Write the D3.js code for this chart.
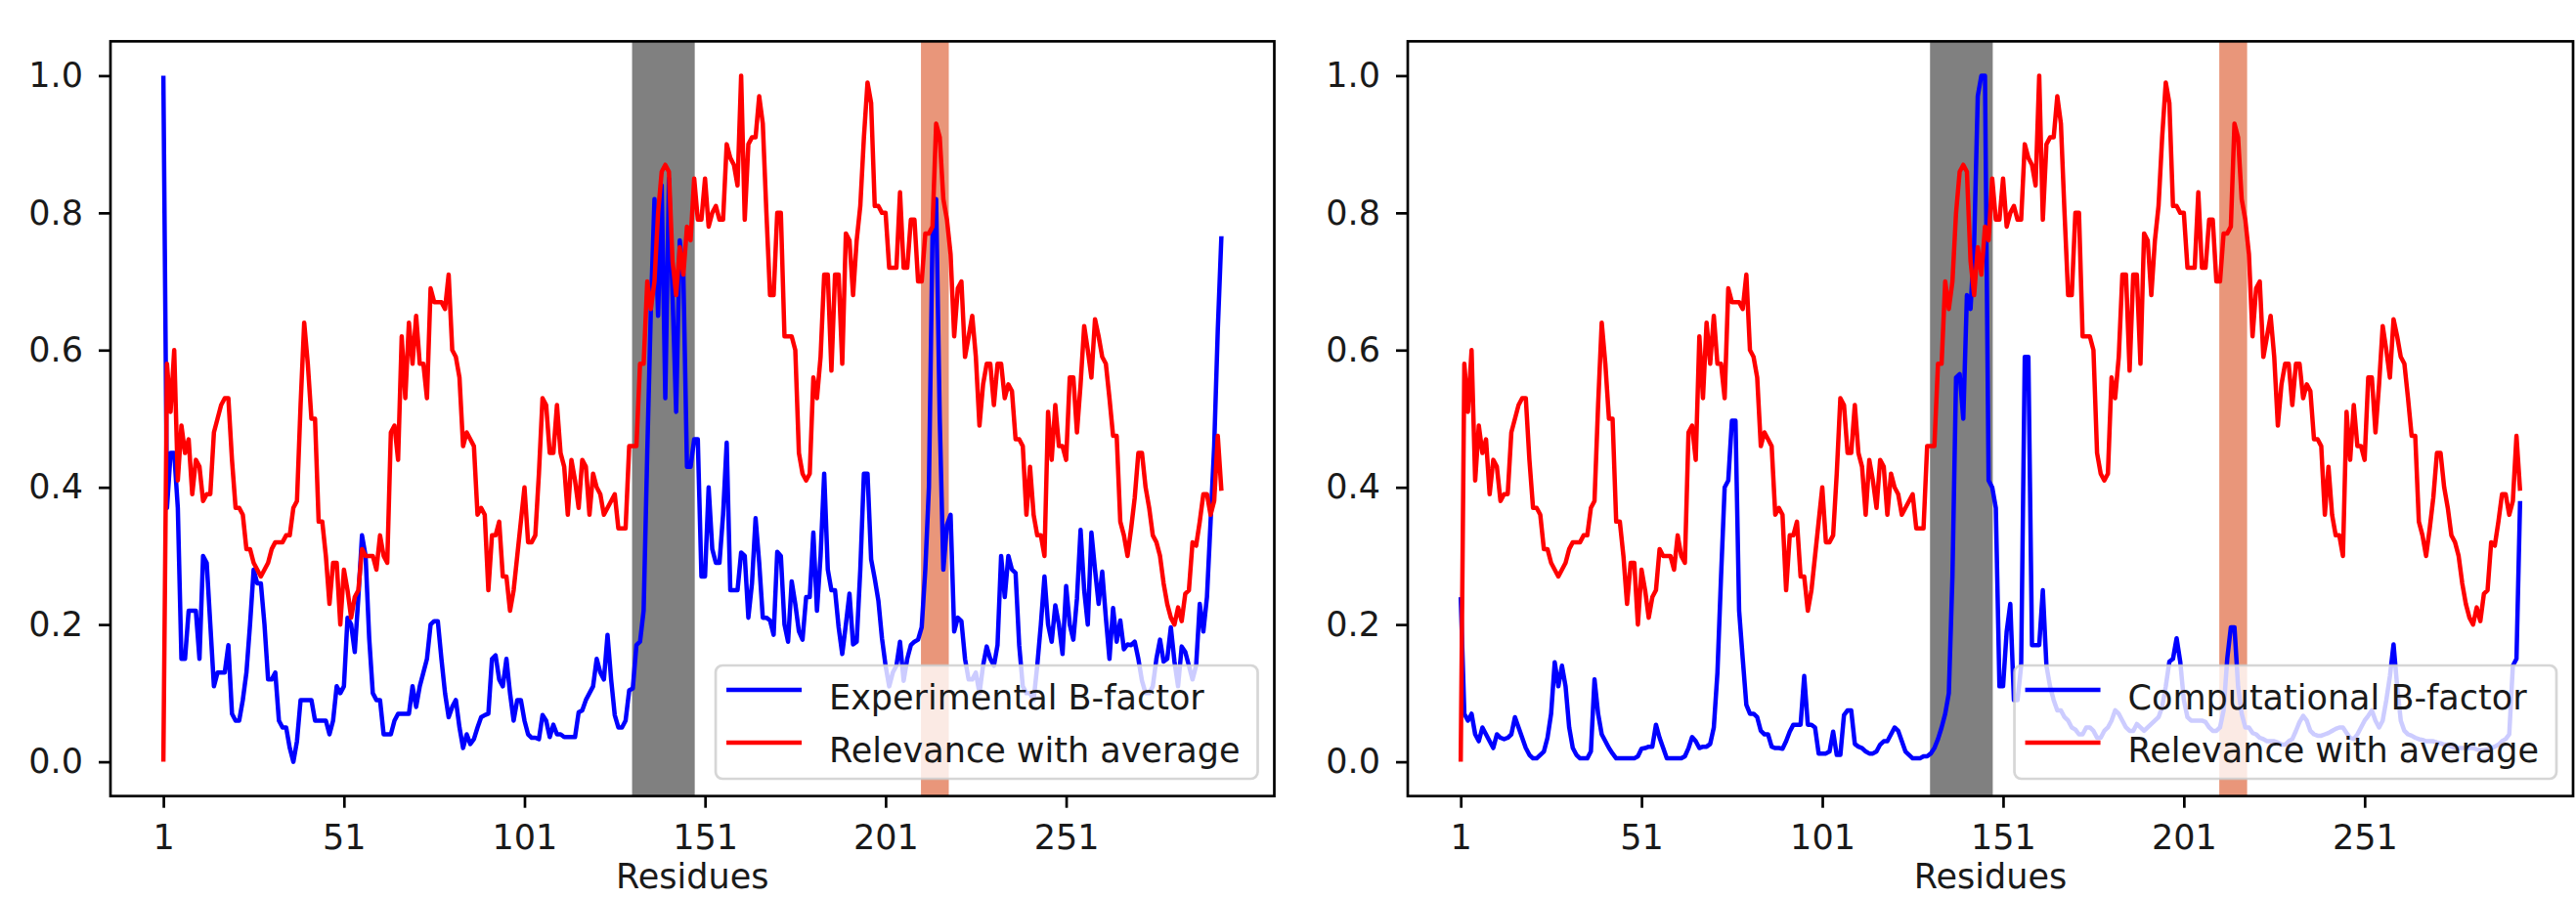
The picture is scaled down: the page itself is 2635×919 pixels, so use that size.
<!DOCTYPE html>
<html>
<head>
<meta charset="utf-8">
<script src="https://cdn.jsdelivr.net/npm/d3@7"></script>
<style>
  html, body { margin: 0; padding: 0; background: #ffffff; }
  svg { display: block; }
  text { font-family: "DejaVu Sans", sans-serif; }
</style>
</head>
<body>
<svg id="chart" width="2635" height="919"></svg>
<script>
// ---------------- DATA ----------------
// Relevance with average (same curve in both panels), residues 1..294
const relevance = [
  0.00, 0.58, 0.51, 0.60, 0.41, 0.49, 0.45, 0.47, 0.39, 0.44,
  0.43, 0.38, 0.39, 0.39, 0.48, 0.50, 0.52, 0.53, 0.53, 0.44,
  0.37, 0.37, 0.36, 0.31, 0.31, 0.29, 0.28, 0.27, 0.28, 0.29,
  0.31, 0.32, 0.32, 0.32, 0.33, 0.33, 0.37, 0.38, 0.52, 0.64,
  0.58, 0.50, 0.50, 0.35, 0.35, 0.30, 0.23, 0.29, 0.29, 0.20,
  0.28, 0.25, 0.21, 0.24, 0.25, 0.31, 0.30, 0.30, 0.30, 0.28,
  0.33, 0.30, 0.29, 0.48, 0.49, 0.44, 0.62, 0.53, 0.64, 0.58,
  0.65, 0.58, 0.58, 0.53, 0.69, 0.67, 0.67, 0.67, 0.66, 0.71,
  0.60, 0.59, 0.56, 0.46, 0.48, 0.47, 0.46, 0.36, 0.37, 0.36,
  0.25, 0.33, 0.33, 0.35, 0.27, 0.27, 0.22, 0.25, 0.30, 0.35,
  0.40, 0.32, 0.32, 0.33, 0.42, 0.53, 0.52, 0.45, 0.45, 0.52,
  0.45, 0.43, 0.36, 0.44, 0.41, 0.37, 0.44, 0.43, 0.36, 0.42,
  0.40, 0.39, 0.36, 0.37, 0.38, 0.39, 0.34, 0.34, 0.34, 0.46,
  0.46, 0.46, 0.58, 0.58, 0.70, 0.66, 0.70, 0.80, 0.86, 0.87,
  0.86, 0.73, 0.68, 0.75, 0.71, 0.78, 0.76, 0.85, 0.79, 0.79,
  0.85, 0.78, 0.80, 0.81, 0.79, 0.79, 0.90, 0.88, 0.87, 0.84,
  1.00, 0.79, 0.90, 0.91, 0.91, 0.97, 0.93, 0.80, 0.68, 0.68,
  0.80, 0.80, 0.62, 0.62, 0.62, 0.60, 0.45, 0.42, 0.41, 0.42,
  0.56, 0.53, 0.59, 0.71, 0.71, 0.57, 0.71, 0.71, 0.58, 0.77,
  0.76, 0.68, 0.76, 0.81, 0.91, 0.99, 0.96, 0.81, 0.81, 0.80,
  0.80, 0.72, 0.72, 0.72, 0.83, 0.72, 0.72, 0.79, 0.79, 0.70,
  0.70, 0.77, 0.77, 0.78, 0.93, 0.91, 0.82, 0.79, 0.74, 0.62,
  0.69, 0.70, 0.59, 0.62, 0.65, 0.59, 0.49, 0.55, 0.58, 0.58,
  0.52, 0.58, 0.58, 0.53, 0.55, 0.54, 0.47, 0.47, 0.46, 0.36,
  0.43, 0.36, 0.33, 0.33, 0.30, 0.51, 0.44, 0.52, 0.46, 0.46,
  0.44, 0.56, 0.56, 0.48, 0.55, 0.635, 0.60, 0.56, 0.645, 0.62,
  0.59, 0.58, 0.53, 0.475, 0.475, 0.35, 0.33, 0.30, 0.34, 0.385,
  0.45, 0.45, 0.40, 0.37, 0.33, 0.32, 0.30, 0.26, 0.23, 0.21,
  0.20, 0.225, 0.205, 0.245, 0.25, 0.32, 0.315, 0.35, 0.39, 0.39,
  0.36, 0.38, 0.475, 0.395
];

// Experimental B-factor (left panel), residues 1..294
const experimentalB = [
  1.00, 0.37, 0.45, 0.45, 0.37, 0.15, 0.15, 0.22, 0.22, 0.22,
  0.15, 0.30, 0.29, 0.20, 0.11, 0.13, 0.13, 0.13, 0.17, 0.07,
  0.06, 0.06, 0.09, 0.13, 0.20, 0.28, 0.26, 0.26, 0.20, 0.12,
  0.12, 0.13, 0.06, 0.05, 0.05, 0.02, 0.00, 0.03, 0.09, 0.09,
  0.09, 0.09, 0.06, 0.06, 0.06, 0.06, 0.04, 0.06, 0.11, 0.10,
  0.11, 0.21, 0.20, 0.16, 0.24, 0.33, 0.30, 0.18, 0.10, 0.09,
  0.09, 0.04, 0.04, 0.04, 0.06, 0.07, 0.07, 0.07, 0.07, 0.11,
  0.08, 0.11, 0.13, 0.15, 0.20, 0.205, 0.205, 0.15, 0.10, 0.065,
  0.08, 0.09, 0.05, 0.02, 0.04, 0.026, 0.033, 0.05, 0.065, 0.068,
  0.07, 0.15, 0.155, 0.12, 0.11, 0.15, 0.10, 0.06, 0.09, 0.09,
  0.06, 0.04, 0.035, 0.035, 0.033, 0.068, 0.06, 0.036, 0.054, 0.04,
  0.04, 0.036, 0.036, 0.036, 0.036, 0.072, 0.075, 0.09, 0.10, 0.11,
  0.15, 0.13, 0.12, 0.185, 0.12, 0.068, 0.05, 0.05, 0.06, 0.104,
  0.107, 0.17, 0.175, 0.22, 0.45, 0.66, 0.82, 0.65, 0.84, 0.53,
  0.85, 0.68, 0.51, 0.76, 0.71, 0.43, 0.43, 0.47, 0.47, 0.27,
  0.27, 0.40, 0.31, 0.29, 0.29, 0.36, 0.465, 0.25, 0.25, 0.25,
  0.305, 0.30, 0.21, 0.26, 0.355, 0.29, 0.21, 0.21, 0.206, 0.185,
  0.306, 0.30, 0.20, 0.175, 0.263, 0.23, 0.19, 0.178, 0.24, 0.24,
  0.334, 0.22, 0.30, 0.42, 0.28, 0.25, 0.25, 0.196, 0.157, 0.20,
  0.245, 0.171, 0.175, 0.28, 0.42, 0.42, 0.295, 0.267, 0.235, 0.18,
  0.14, 0.11, 0.13, 0.14, 0.175, 0.118, 0.15, 0.17, 0.175, 0.178,
  0.196, 0.28, 0.40, 0.77, 0.82, 0.50, 0.28, 0.345, 0.36, 0.19,
  0.21, 0.205, 0.15, 0.12, 0.12, 0.13, 0.10, 0.14, 0.168, 0.15,
  0.14, 0.17, 0.30, 0.24, 0.30, 0.28, 0.275, 0.17, 0.11, 0.10,
  0.10, 0.09, 0.14, 0.20, 0.27, 0.20, 0.175, 0.228, 0.20, 0.157,
  0.256, 0.20, 0.178, 0.238, 0.338, 0.25, 0.20, 0.334, 0.28, 0.23,
  0.277, 0.21, 0.15, 0.224, 0.175, 0.206, 0.164, 0.171, 0.17, 0.175,
  0.15, 0.118, 0.10, 0.10, 0.11, 0.15, 0.178, 0.146, 0.15, 0.196,
  0.146, 0.11, 0.168, 0.16, 0.14, 0.12, 0.14, 0.23, 0.19, 0.24,
  0.35, 0.46, 0.63, 0.766
];

// Computational B-factor (right panel), residues 1..294
const computationalB = [
  0.24, 0.07, 0.06, 0.07, 0.04, 0.03, 0.05, 0.04, 0.03, 0.02,
  0.04, 0.035, 0.033, 0.035, 0.04, 0.065, 0.05, 0.035, 0.02, 0.01,
  0.005, 0.005, 0.01, 0.015, 0.035, 0.07, 0.145, 0.11, 0.14, 0.11,
  0.05, 0.02, 0.01, 0.005, 0.005, 0.005, 0.015, 0.12, 0.07, 0.04,
  0.03, 0.02, 0.012, 0.005, 0.005, 0.005, 0.005, 0.005, 0.005, 0.008,
  0.019, 0.02, 0.022, 0.022, 0.054, 0.035, 0.02, 0.005, 0.005, 0.005,
  0.005, 0.005, 0.008, 0.02, 0.036, 0.03, 0.02, 0.022, 0.022, 0.026,
  0.05, 0.13, 0.27, 0.40, 0.41, 0.497, 0.497, 0.22, 0.15, 0.083,
  0.07, 0.07, 0.065, 0.045, 0.04, 0.04, 0.022, 0.02, 0.02, 0.019,
  0.03, 0.044, 0.054, 0.054, 0.054, 0.125, 0.054, 0.054, 0.05, 0.012,
  0.012, 0.012, 0.015, 0.044, 0.01, 0.01, 0.068, 0.075, 0.075, 0.026,
  0.022, 0.02, 0.015, 0.012, 0.012, 0.015, 0.025, 0.03, 0.03, 0.04,
  0.05, 0.045, 0.03, 0.015, 0.01, 0.005, 0.005, 0.005, 0.008, 0.008,
  0.012, 0.02, 0.033, 0.05, 0.07, 0.10, 0.27, 0.56, 0.565, 0.50,
  0.68, 0.66, 0.755, 0.97, 1.00, 1.00, 0.41, 0.40, 0.37, 0.11,
  0.11, 0.19, 0.23, 0.09, 0.09, 0.14, 0.59, 0.59, 0.17, 0.17,
  0.17, 0.25, 0.14, 0.11, 0.09, 0.075, 0.075, 0.065, 0.06, 0.05,
  0.047, 0.04, 0.04, 0.05, 0.05, 0.045, 0.035, 0.035, 0.045, 0.05,
  0.06, 0.075, 0.07, 0.06, 0.05, 0.045, 0.045, 0.055, 0.05, 0.045,
  0.05, 0.055, 0.06, 0.065, 0.08, 0.11, 0.146, 0.15, 0.18, 0.146,
  0.09, 0.065, 0.06, 0.06, 0.06, 0.06, 0.058, 0.05, 0.045, 0.045,
  0.05, 0.075, 0.15, 0.196, 0.196, 0.11, 0.07, 0.05, 0.05, 0.042,
  0.04, 0.035, 0.033, 0.03, 0.03, 0.03, 0.028, 0.025, 0.025, 0.03,
  0.033, 0.045, 0.058, 0.067, 0.06, 0.045, 0.04, 0.038, 0.038, 0.04,
  0.042, 0.045, 0.048, 0.05, 0.05, 0.042, 0.035, 0.033, 0.04, 0.05,
  0.06, 0.067, 0.075, 0.06, 0.05, 0.06, 0.09, 0.125, 0.171, 0.11,
  0.06, 0.045, 0.04, 0.038, 0.035, 0.033, 0.032, 0.03, 0.03, 0.03,
  0.028, 0.027, 0.025, 0.025, 0.022, 0.02, 0.02, 0.02, 0.02, 0.02,
  0.02, 0.018, 0.017, 0.017, 0.018, 0.02, 0.022, 0.025, 0.03, 0.033,
  0.04, 0.14, 0.15, 0.38
];

const xTickValues = [1, 51, 101, 151, 201, 251];
const yTickValues = [0.0, 0.2, 0.4, 0.6, 0.8, 1.0];
const grayBand = [130.8, 148.15];     // residue span shaded grey
const salmonBand = [210.8, 218.5];    // residue span shaded dark salmon
const xLabel = "Residues";
const relevanceLabel = "Relevance with average";
const panelLabels = ["Experimental B-factor", "Computational B-factor"];
const panelSeries = [experimentalB, computationalB];

// ---------------- LAYOUT ----------------
const svg = d3.select("#chart");
const FONT = 35;
const axTop = 42.3, axBottom = 814.7;
const panelsBox = [{ x0: 113, x1: 1303.5 }, { x0: 1440, x1: 2632 }];
const n = relevance.length;
const xPad = 0.05 * (n - 1);

panelsBox.forEach((box, pi) => {
  const x = d3.scaleLinear().domain([1 - xPad, n + xPad]).range([box.x0, box.x1]);
  const y = d3.scaleLinear().domain([-0.05, 1.05]).range([axBottom, axTop]);
  const g = svg.append("g");

  const clipId = "clip" + pi;
  svg.append("clipPath").attr("id", clipId)
    .append("rect").attr("x", box.x0).attr("y", axTop)
    .attr("width", box.x1 - box.x0).attr("height", axBottom - axTop);

  const plot = g.append("g").attr("clip-path", `url(#${clipId})`);

  // shaded spans
  plot.append("rect")
    .attr("x", x(grayBand[0])).attr("width", x(grayBand[1]) - x(grayBand[0]))
    .attr("y", axTop).attr("height", axBottom - axTop)
    .attr("fill", "#808080");
  plot.append("rect")
    .attr("x", x(salmonBand[0])).attr("width", x(salmonBand[1]) - x(salmonBand[0]))
    .attr("y", axTop).attr("height", axBottom - axTop)
    .attr("fill", "#e9967a");

  const line = d3.line()
    .x((d, i) => x(i + 1))
    .y(d => y(d));

  plot.append("path").datum(panelSeries[pi])
    .attr("d", line).attr("fill", "none")
    .attr("stroke", "#0000ff").attr("stroke-width", 4.5)
    .attr("stroke-linejoin", "round");
  plot.append("path").datum(relevance)
    .attr("d", line).attr("fill", "none")
    .attr("stroke", "#ff0000").attr("stroke-width", 4.5)
    .attr("stroke-linejoin", "round");

  // axes
  const xAxis = d3.axisBottom(x).tickValues(xTickValues).tickSize(12).tickPadding(17)
    .tickFormat(d3.format("d"));
  const yAxis = d3.axisLeft(y).tickValues(yTickValues).tickSize(12).tickPadding(16)
    .tickFormat(d3.format(".1f"));

  const gx = g.append("g").attr("transform", `translate(0,${axBottom})`).call(xAxis);
  const gy = g.append("g").attr("transform", `translate(${box.x0},0)`).call(yAxis);
  [gx, gy].forEach(a => {
    a.select(".domain").remove();
    a.selectAll(".tick line").attr("stroke", "#000").attr("stroke-width", 2.7);
    a.selectAll(".tick text").attr("fill", "#1a1a1a")
      .style("font-size", FONT + "px").style("font-family", "DejaVu Sans, sans-serif");
  });

  // frame
  g.append("rect").attr("x", box.x0).attr("y", axTop)
    .attr("width", box.x1 - box.x0).attr("height", axBottom - axTop)
    .attr("fill", "none").attr("stroke", "#000").attr("stroke-width", 2.7);

  // x label
  g.append("text").attr("x", (box.x0 + box.x1) / 2).attr("y", 909)
    .attr("text-anchor", "middle").attr("fill", "#1a1a1a")
    .style("font-size", FONT + "px").text(xLabel);

  // legend
  const items = [
    { label: panelLabels[pi], color: "#0000ff" },
    { label: relevanceLabel, color: "#ff0000" }
  ];
  const lg = g.append("g");
  const frame = lg.append("rect");
  const texts = items.map((it, k) => lg.append("text")
    .attr("fill", "#1a1a1a").style("font-size", FONT + "px").text(it.label));
  const maxW = d3.max(texts, t => t.node().getComputedTextLength());
  const padL = 11, handleLen = 77, gap = 28, padR = 18;
  const lw = padL + handleLen + gap + maxW + padR;
  const lh = 116;
  const lx = box.x1 - 17 - lw;
  const ly = axBottom - 17.7 - lh;
  frame.attr("x", lx).attr("y", ly).attr("width", lw).attr("height", lh)
    .attr("rx", 7).attr("ry", 7)
    .attr("fill", "#ffffff").attr("fill-opacity", 0.8)
    .attr("stroke", "#cccccc").attr("stroke-opacity", 0.8).attr("stroke-width", 2.7);
  items.forEach((it, k) => {
    const cy = ly + 25 + k * 54;
    lg.append("line").attr("x1", lx + padL).attr("x2", lx + padL + handleLen)
      .attr("y1", cy).attr("y2", cy)
      .attr("stroke", it.color).attr("stroke-width", 4.5);
    texts[k].attr("x", lx + padL + handleLen + gap).attr("y", cy + 20);
  });
});
</script>
</body>
</html>
